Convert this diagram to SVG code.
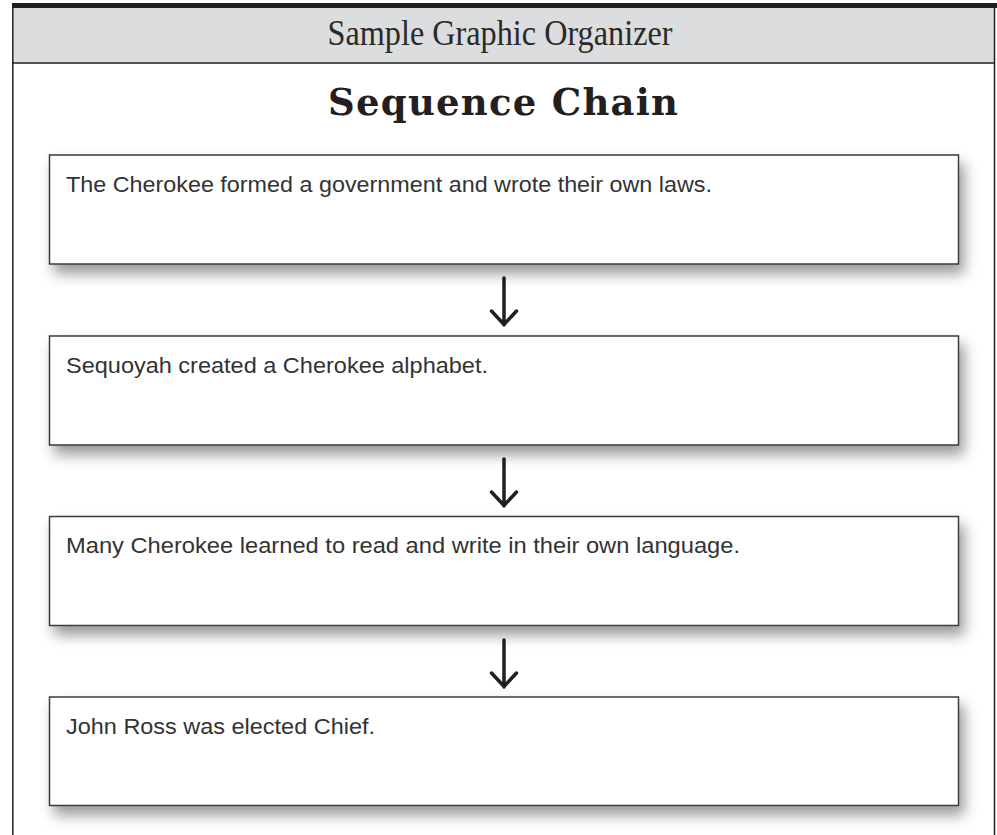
<svg xmlns="http://www.w3.org/2000/svg" width="997" height="835" viewBox="0 0 997 835">
  <style>
    .box { fill: #ffffff; stroke: #3a3a3a; stroke-width: 1.5; }
    .hand { font-family: "Liberation Sans", "DejaVu Sans", sans-serif; font-size: 22px; fill: #333333; }
    .arrow { fill: none; stroke: #231f20; stroke-width: 3.5; stroke-linecap: round; stroke-linejoin: miter; }
  </style>
  <defs>
    <filter id="shadow" x="-5%" y="-25%" width="115%" height="170%">
      <feDropShadow dx="5" dy="9" stdDeviation="7" flood-color="#000000" flood-opacity="0.4"/>
    </filter>
  </defs>
  <rect x="0" y="0" width="997" height="835" fill="#ffffff"/>
  <g id="frame">
    <rect x="12.5" y="8" width="982" height="55" fill="#dcdddf"/>
    <rect x="12" y="3" width="985" height="5" fill="#231f20"/>
    <line x1="12.5" y1="63" x2="994.5" y2="63" stroke="#555555" stroke-width="2"/>
    <line x1="12.8" y1="3" x2="12.8" y2="835" stroke="#231f20" stroke-width="1.5"/>
    <line x1="994.5" y1="3" x2="994.5" y2="835" stroke="#231f20" stroke-width="1.5"/>
    <text x="500" y="45" text-anchor="middle" font-family="Liberation Serif, serif" font-size="35" fill="#2a2a2a" textLength="345" lengthAdjust="spacingAndGlyphs">Sample Graphic Organizer</text>
    <text x="503" y="115" text-anchor="middle" font-family="DejaVu Serif, serif" font-weight="bold" font-size="37" fill="#231f20" textLength="350" lengthAdjust="spacing">Sequence Chain</text>
  </g>
  <g id="connectors">
    <path class="arrow" d="M504 278 V325 M491.5 311 L504 324.5 L516.5 311"/>
    <path class="arrow" d="M504 459 V506 M491.5 492 L504 505.5 L516.5 492"/>
    <path class="arrow" d="M504 640 V687 M491.5 673 L504 686.5 L516.5 673"/>
  </g>
  <g id="node1">
    <rect class="box" x="49.5" y="155" width="909" height="109" filter="url(#shadow)"/>
    <text class="hand" x="66" y="192" textLength="646" lengthAdjust="spacingAndGlyphs">The Cherokee formed a government and wrote their own laws.</text>
  </g>
  <g id="node2">
    <rect class="box" x="49.5" y="336" width="909" height="109" filter="url(#shadow)"/>
    <text class="hand" x="66" y="373" textLength="422" lengthAdjust="spacingAndGlyphs">Sequoyah created a Cherokee alphabet.</text>
  </g>
  <g id="node3">
    <rect class="box" x="49.5" y="516.5" width="909" height="109" filter="url(#shadow)"/>
    <text class="hand" x="66" y="553" textLength="674" lengthAdjust="spacingAndGlyphs">Many Cherokee learned to read and write in their own language.</text>
  </g>
  <g id="node4">
    <rect class="box" x="49.5" y="697" width="909" height="108.5" filter="url(#shadow)"/>
    <text class="hand" x="66" y="734" textLength="309" lengthAdjust="spacingAndGlyphs">John Ross was elected Chief.</text>
  </g>
</svg>
